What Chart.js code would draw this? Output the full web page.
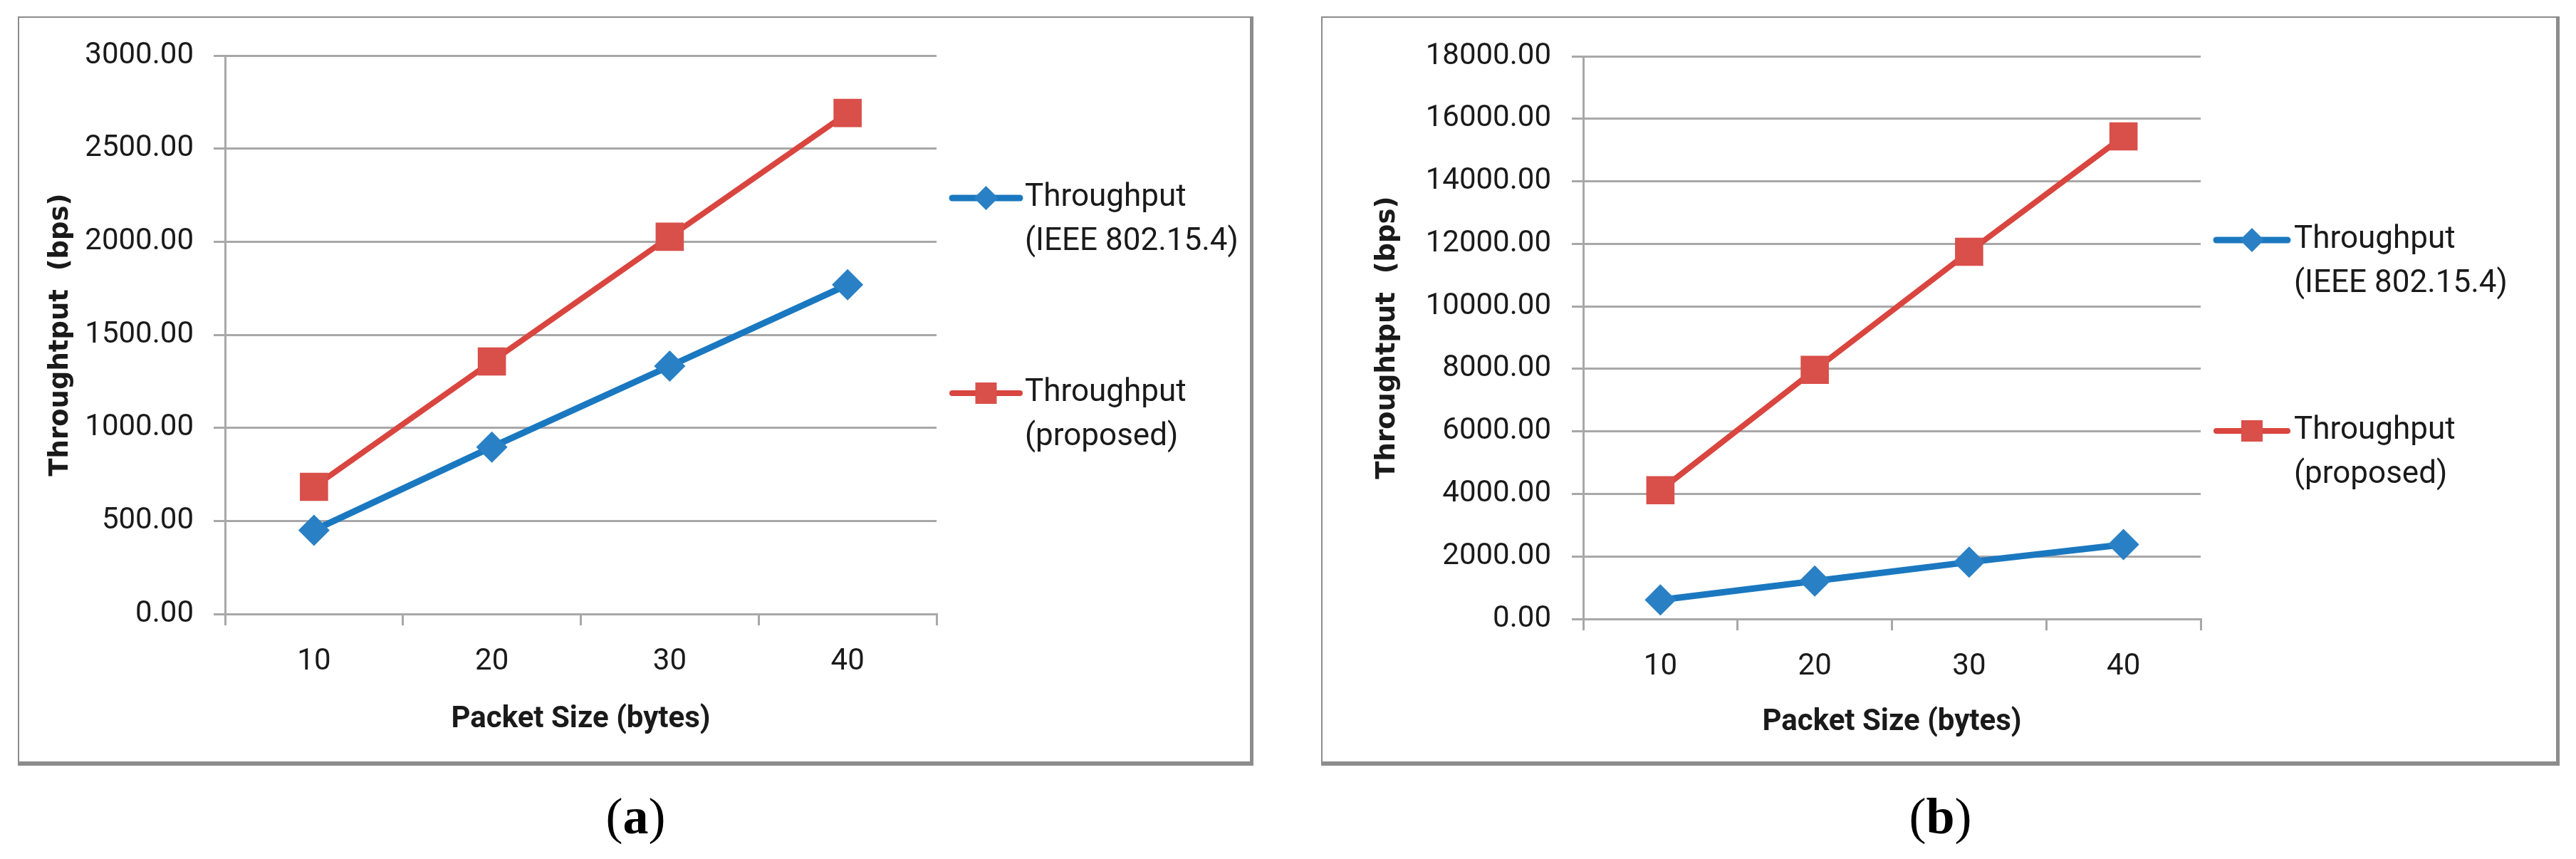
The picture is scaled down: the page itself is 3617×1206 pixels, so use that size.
<!DOCTYPE html>
<html>
<head>
<meta charset="utf-8">
<script src="https://cdn.jsdelivr.net/npm/chart.js@4.4.1/dist/chart.umd.min.js"></script>
<style>
  html, body { margin: 0; padding: 0; background: #fff; }
  body { width: 3617px; height: 1206px; position: relative; overflow: hidden; }
  .panel {
    position: absolute; top: 23px; height: 1052px; box-sizing: border-box;
    border-style: solid; border-color: #8c8c8c; border-width: 2px 5px 6px 2px; background: #fff;
  }
  .panel canvas { display: block; }
  .caption {
    position: absolute; top: 1100px; height: 92px; line-height: 92px; text-align: center;
    font-family: 'Liberation Serif', 'DejaVu Serif', serif; font-size: 72px; color: #000;
  }
</style>
</head>
<body>
<div class="panel" style="left:25px; width:1735px;"><canvas id="chartA" width="1728" height="1044"></canvas></div>
<div class="panel" style="left:1855px; width:1739px;"><canvas id="chartB" width="1732" height="1044"></canvas></div>
<div class="caption" style="left:25px; width:1735px;">(<b>a</b>)</div>
<div class="caption" style="left:1855px; width:1739px;">(<b>b</b>)</div>
<script>
// data
const packetSizes = ['10', '20', '30', '40'];
const seriesNames = ['Throughput (IEEE 802.15.4)', 'Throughput (proposed)'];
const legendLines = [['Throughput', '(IEEE 802.15.4)'], ['Throughput', '(proposed)']];
const ieeeA = [450, 897, 1332, 1769];
const proposedA = [683, 1357, 2027, 2692];
const ieeeB = [610, 1215, 1820, 2380];
const proposedB = [4120, 7970, 11750, 15440];
const yTicksA = [0, 500, 1000, 1500, 2000, 2500, 3000];
const yTicksB = [0, 2000, 4000, 6000, 8000, 10000, 12000, 14000, 16000, 18000];

const sans = "Roboto, 'Liberation Sans', sans-serif";
const gridColor = '#a8a8a8';
const textColor = '#1a1a1a';
const blue = '#1a78c0';
const blueMark = '#2a80c4';
const red = '#d9453f';
const redMark = '#d94f4a';

// legend drawn at the right: line with marker, two-line label
const sideLegend = {
    id: 'sideLegend',
    afterDraw(chart, args, opts) {
        const ctx = chart.ctx;
        chart.data.datasets.forEach((ds, i) => {
            const x = opts.x;
            const y = opts.rows[i];
            const cx = x + opts.lineLength / 2;
            ctx.save();
            ctx.strokeStyle = ds.borderColor;
            ctx.lineWidth = ds.borderWidth;
            ctx.lineCap = 'round';
            ctx.beginPath();
            ctx.moveTo(x, y);
            ctx.lineTo(x + opts.lineLength, y);
            ctx.stroke();

            ctx.fillStyle = ds.pointBackgroundColor;
            ctx.beginPath();
            if (ds.pointStyle === 'rect') {
                const s = opts.square / 2;
                ctx.rect(cx - s, y - s, 2 * s, 2 * s);
            } else {
                const r = opts.diamond;
                ctx.moveTo(cx - r, y);
                ctx.lineTo(cx, y - r);
                ctx.lineTo(cx + r, y);
                ctx.lineTo(cx, y + r);
                ctx.closePath();
            }
            ctx.fill();

            ctx.fillStyle = textColor;
            ctx.font = '44px ' + sans;
            ctx.textBaseline = 'middle';
            ctx.textAlign = 'left';
            legendLines[i].forEach((t, j) => {
                ctx.fillText(t, x + opts.lineLength + opts.gap, y + j * opts.lineGap);
            });
            ctx.restore();
        });
    }
};

function makeChart(id, ieee, proposed, yTicks, lay) {
    const ctx = document.getElementById(id).getContext('2d');
    return new Chart(ctx, {
        type: 'line',
        data: {
            labels: packetSizes,
            datasets: [{
                label: seriesNames[0],
                data: ieee,
                borderColor: blue,
                backgroundColor: blueMark,
                pointBackgroundColor: blueMark,
                pointBorderWidth: 0,
                pointStyle: 'rectRot',
                pointRadius: 22,
                borderWidth: 9,
                tension: 0
            }, {
                label: seriesNames[1],
                data: proposed,
                borderColor: red,
                backgroundColor: redMark,
                pointBackgroundColor: redMark,
                pointBorderWidth: 0,
                pointStyle: 'rect',
                pointRadius: 28,
                borderWidth: 8,
                tension: 0
            }]
        },
        options: {
            responsive: false,
            animation: false,
            devicePixelRatio: 1,
            layout: { padding: { top: lay.top, right: lay.right, bottom: 0, left: 0 } },
            plugins: {
                legend: { display: false },
                tooltip: { enabled: false },
                sideLegend: lay.legend
            },
            scales: {
                x: {
                    offset: true,
                    grid: { offset: true, drawOnChartArea: false, drawTicks: true, tickLength: 16, color: gridColor, lineWidth: 3 },
                    border: { display: true, color: gridColor, width: 3 },
                    ticks: { color: textColor, padding: 26, font: { family: sans, size: 42 } },
                    title: {
                        display: true,
                        text: 'Packet Size (bytes)',
                        color: textColor,
                        font: { family: sans, size: 42, weight: 'bold' },
                        padding: { top: 0, bottom: lay.xTitlePad }
                    },
                    afterFit: (scale) => { scale.height = lay.xHeight; }
                },
                y: {
                    min: yTicks[0],
                    max: yTicks[yTicks.length - 1],
                    grid: { color: gridColor, lineWidth: 3, tickLength: 16 },
                    border: { display: true, color: gridColor, width: 3 },
                    ticks: {
                        stepSize: yTicks[1] - yTicks[0],
                        color: textColor,
                        padding: lay.yTickPad,
                        font: { family: sans, size: 42 },
                        callback: (v) => v.toFixed(2)
                    },
                    title: {
                        display: true,
                        text: 'Throughtput  (bps)',
                        color: textColor,
                        font: { family: "'DejaVu Sans', sans-serif", size: 37, weight: 'bold' },
                        padding: { top: lay.yTitlePad, bottom: 0 }
                    },
                    afterFit: (scale) => { scale.width = lay.yWidth; }
                }
            }
        },
        plugins: [sideLegend]
    });
}

makeChart('chartA', ieeeA, proposedA, yTicksA, {
    top: 51, right: 440, yWidth: 289, xHeight: 207, yTitlePad: 36, xTitlePad: 33, yTickPad: 28,
    legend: { x: 1310, rows: [253, 527], lineLength: 95, gap: 7, lineGap: 62, square: 30, diamond: 17 }
});
makeChart('chartB', ieeeB, proposedB, yTicksB, {
    top: 49, right: 499, yWidth: 366, xHeight: 200, yTitlePad: 69, xTitlePad: 29, yTickPad: 29,
    legend: { x: 1255, rows: [312, 580], lineLength: 100, gap: 9, lineGap: 62, square: 30, diamond: 17 }
});
</script>
</body>
</html>
